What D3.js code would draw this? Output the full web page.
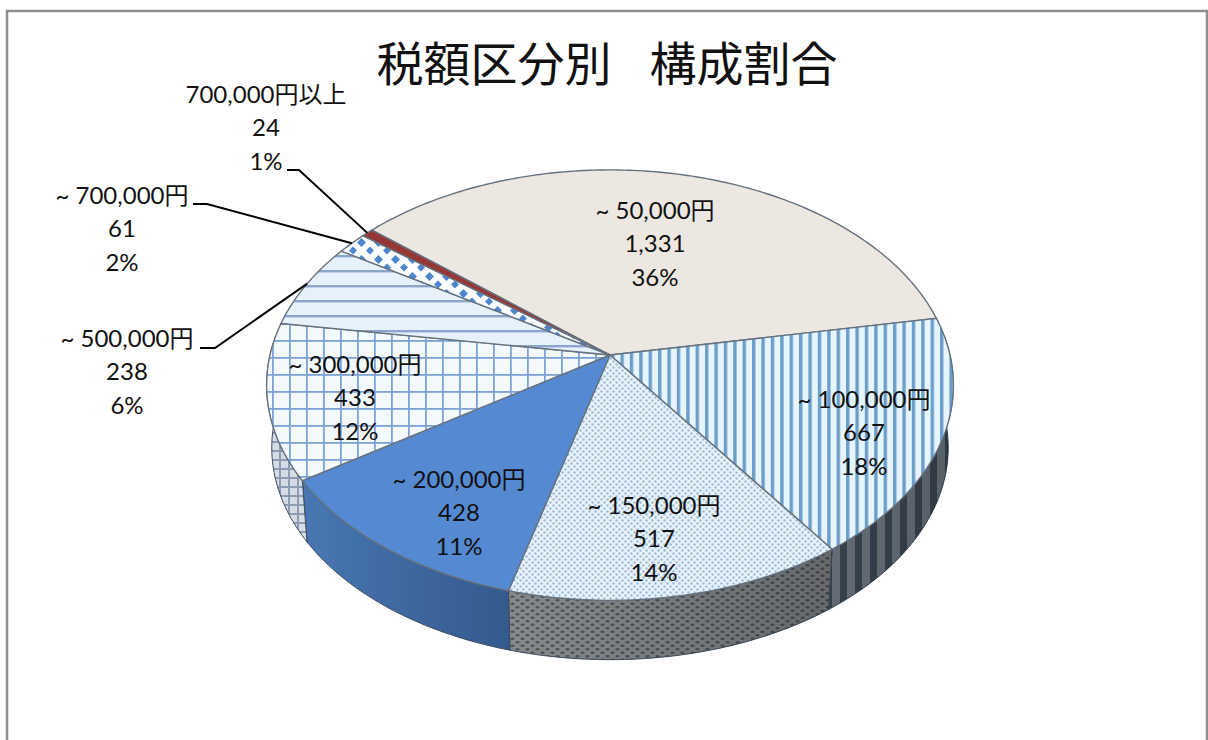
<!DOCTYPE html>
<html lang="ja">
<head>
<meta charset="utf-8">
<script src="https://cdn.jsdelivr.net/npm/d3@7"></script>
<style>
  html, body { margin: 0; padding: 0; background: #fff; }
  svg { display: block; }
  text { font-family: Lato, "Noto Sans CJK JP", sans-serif; fill: #111; }
</style>
</head>
<body>
<svg id="chart" width="1208" height="740"></svg>
<script>
const title = "税額区分別  構成割合";
const categories = ["~ 50,000円", "~ 100,000円", "~ 150,000円", "~ 200,000円", "~ 300,000円", "~ 500,000円", "~ 700,000円", "700,000円以上"];
const counts = [1331, 667, 517, 428, 433, 238, 61, 24];
const percents = ["36%", "18%", "14%", "11%", "12%", "6%", "2%", "1%"];

const width = 1208, height = 740;
const svg = d3.select("#chart");
const defs = svg.append("defs");

// label centres, in the same order as the categories
const labelX = [655, 864, 654, 459, 355, 127, 122, 266];
const labelY = [211, 400, 506, 480, 365, 339, 196, 95];
const lineGap = 33.5;
// leader lines: elbow start x, elbow end x, elbow y, where it meets the slice rim
const leaders = { 5: [200, 215, 348, 0.52], 6: [193, 207, 204, 0.5], 7: [287, 299, 170, 0.5] };

// perspective projection of the pie: apex of the slices sits above the ellipse centre
const cx = 610, cy = 355, A = 340, B = 211, persp = 0.14;
const wallDrop = 63, wallScale = 0.985;
const startAngle = -49.8 * Math.PI / 180;

function project(a, r = 1, lower = false) {
    const u = r * Math.sin(a), v = r * Math.cos(a);
    const w = 1 + persp * v;
    const s = lower ? wallScale : 1;
    return [cx + s * A * u / w, cy - s * B * v / w + (lower ? wallDrop : 0)];
}

function arcAngles(a0, a1) {
    const n = Math.max(2, Math.ceil((a1 - a0) * 60));
    return d3.range(n + 1).map(i => a0 + (a1 - a0) * i / n);
}

const line = d3.line();

// hatch patterns
function pattern(id, w, h, bg, draw) {
    const p = defs.append("pattern").attr("id", id)
        .attr("patternUnits", "userSpaceOnUse").attr("width", w).attr("height", h);
    p.append("rect").attr("width", w).attr("height", h).attr("fill", bg);
    draw(p);
}
pattern("top-vert", 9.4, 10, "#e6f4fc", p => p.append("rect").attr("width", 3.4).attr("height", 10).attr("fill", "#6d9ec9"));
pattern("top-dots", 6, 6, "#e8f2fa", p => {
    p.append("circle").attr("cx", 1.5).attr("cy", 1.5).attr("r", 1.2).attr("fill", "#9dbbd6");
    p.append("circle").attr("cx", 4.5).attr("cy", 4.5).attr("r", 1.2).attr("fill", "#9dbbd6");
});
pattern("top-grid", 17, 17, "#f4f9fe", p => {
    p.append("rect").attr("width", 1.8).attr("height", 17).attr("fill", "#7ea3d6");
    p.append("rect").attr("width", 17).attr("height", 1.8).attr("fill", "#7ea3d6");
});
pattern("top-horiz", 10, 15, "#e6f1fc", p => {
    p.append("rect").attr("width", 10).attr("height", 2.4).attr("fill", "#8ba5cc");
});
pattern("top-diam", 17, 17, "#fbfdff", p => {
    p.append("path").attr("d", "M4.5 0L9 4.5L4.5 9L0 4.5Z M13 8.5L17 12.5L13 16.5L9 12.5Z").attr("fill", "#4f85cf");
});
pattern("wall-vert", 15, 10, "#87929d", p => p.append("rect").attr("width", 7).attr("height", 10).attr("fill", "#485766"));
pattern("wall-dots", 10, 7, "#8b8f92", p => {
    p.append("ellipse").attr("cx", 2.5).attr("cy", 1.8).attr("rx", 2.2).attr("ry", 1.3).attr("fill", "#54585c");
    p.append("ellipse").attr("cx", 7.5).attr("cy", 5.2).attr("rx", 2.2).attr("ry", 1.3).attr("fill", "#54585c");
});
pattern("wall-grid", 9, 9, "#d5dce6", p => {
    p.append("rect").attr("width", 2).attr("height", 9).attr("fill", "#8d9cb3");
    p.append("rect").attr("width", 9).attr("height", 2).attr("fill", "#8d9cb3");
});

const blue = defs.append("linearGradient").attr("id", "wall-blue")
    .attr("gradientUnits", "userSpaceOnUse").attr("x1", 305).attr("x2", 512).attr("y1", 0).attr("y2", 0);
blue.append("stop").attr("offset", 0).attr("stop-color", "#4876b2");
blue.append("stop").attr("offset", 1).attr("stop-color", "#34598c");

const darken = defs.append("linearGradient").attr("id", "wall-shade")
    .attr("gradientUnits", "userSpaceOnUse").attr("x1", 510).attr("x2", 950).attr("y1", 0).attr("y2", 0);
darken.append("stop").attr("offset", 0).attr("stop-color", "#000").attr("stop-opacity", 0.03);
darken.append("stop").attr("offset", 1).attr("stop-color", "#000").attr("stop-opacity", 0.35);

const soft = defs.append("filter").attr("id", "soft");
soft.append("feGaussianBlur").attr("stdDeviation", 0.5);

const topFills = ["#ece8e1", "url(#top-vert)", "url(#top-dots)", "#558ad2", "url(#top-grid)", "url(#top-horiz)", "url(#top-diam)", "#953735"];
const wallFills = ["#ece8e1", "url(#wall-vert)", "url(#wall-dots)", "url(#wall-blue)", "url(#wall-grid)", "#d5dce6", "#d5dce6", "#953735"];

// frame, runs off the right and bottom of the page
svg.append("path")
    .attr("d", `M7 ${height}V11H1207V${height}`)
    .attr("fill", "none").attr("stroke", "#8e8e8e").attr("stroke-width", 2.5);

svg.append("text")
    .attr("x", 607).attr("y", 81)
    .attr("text-anchor", "middle")
    .attr("font-size", 47)
    .style("white-space", "pre")
    .style("word-spacing", "7px")
    .text(title);

const pie = d3.pie().sort(null).startAngle(startAngle).endAngle(startAngle + 2 * Math.PI);
const slices = pie(counts);

const pieG = svg.append("g").attr("filter", "url(#soft)");

// walls of the front half
const wallMin = 85 * Math.PI / 180, wallMax = 275 * Math.PI / 180;
const wallG = pieG.append("g");
slices.forEach((d, i) => {
    const a0 = Math.max(d.startAngle, wallMin), a1 = Math.min(d.endAngle, wallMax);
    if (a1 <= a0) return;
    const pts = arcAngles(a0, a1);
    const outline = pts.map(a => project(a)).concat(pts.slice().reverse().map(a => project(a, 1, true)));
    wallG.append("path")
        .attr("d", line(outline) + "Z")
        .attr("fill", wallFills[i])
        .attr("stroke", "#3d4a5c").attr("stroke-width", 1);
    if (i < 3) {
        wallG.append("path").attr("d", line(outline) + "Z").attr("fill", "url(#wall-shade)");
    }
});

// top face
const topG = pieG.append("g");
slices.forEach((d, i) => {
    const outline = [[cx, cy]].concat(arcAngles(d.startAngle, d.endAngle).map(a => project(a)));
    topG.append("path")
        .attr("d", line(outline) + "Z")
        .attr("fill", topFills[i])
        .attr("stroke", "#66727f").attr("stroke-width", 1.4);
});

// leader lines for the small slices
Object.keys(leaders).forEach(k => {
    const [x0, x1, y, frac] = leaders[k];
    const d = slices[+k];
    const end = project(d.startAngle + (d.endAngle - d.startAngle) * frac);
    svg.append("path")
        .attr("d", line([[x0, y], [x1, y], end]))
        .attr("fill", "none").attr("stroke", "#000").attr("stroke-width", 2);
});

// data labels
const fmt = d3.format(",");
categories.forEach((c, i) => {
    const t = svg.append("text")
        .attr("text-anchor", "middle")
        .attr("font-size", 24);
    [c, fmt(counts[i]), percents[i]].forEach((s, j) => {
        t.append("tspan")
            .attr("x", labelX[i])
            .attr("y", labelY[i] + j * lineGap)
            .attr("dy", "0.33em")
            .text(s);
    });
});
</script>
</body>
</html>
